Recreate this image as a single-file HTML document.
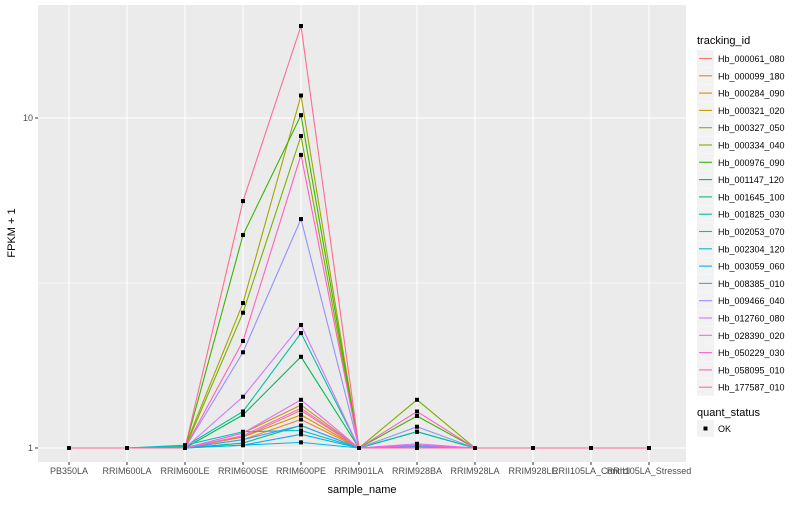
<!DOCTYPE html>
<html><head><meta charset="utf-8"><style>
body{margin:0;background:#fff;font-family:"Liberation Sans",Arial,sans-serif}
svg text{font-family:"Liberation Sans",Arial,sans-serif}
</style></head><body>
<svg id="c" width="800" height="500" xmlns="http://www.w3.org/2000/svg">
<rect x="0" y="0" width="800" height="500" fill="#fff"/>
</svg>
<script>
const categories=["PB350LA","RRIM600LA","RRIM600LE","RRIM600SE","RRIM600PE","RRIM901LA","RRIM928BA","RRIM928LA","RRIM928LE","RRII105LA_Control","RRII105LA_Stressed"];
const seriesIds=["Hb_000061_080","Hb_000099_180","Hb_000284_090","Hb_000321_020","Hb_000327_050","Hb_000334_040","Hb_000976_090","Hb_001147_120","Hb_001645_100","Hb_001825_030","Hb_002053_070","Hb_002304_120","Hb_003059_060","Hb_008385_010","Hb_009466_040","Hb_012760_080","Hb_028390_020","Hb_050229_030","Hb_058095_010","Hb_177587_010"];
const colors=["#F8766D","#EA8331","#D89000","#C09B00","#A3A500","#7CAE00","#39B600","#00BB4E","#00BF7D","#00C1A3","#00BFC4","#00BAE0","#00B0F6","#35A2FF","#9590FF","#C77CFF","#E76BF3","#FA62DB","#FF62BC","#FF6C91"];
const sePE=[[1.08,1.30],[1.06,1.22],[1.08,1.26],[1.11,1.35],[2.75,11.7],[2.57,8.82],[4.42,10.2],[1.26,1.89],[1.035,1.17],[1.29,2.23],[1.12,1.13],[1.02,1.04],[1.02,1.10],[1.06,1.17],[1.95,4.94],[1.43,2.36],[1.11,1.40],[1.09,1.32],[2.11,7.73],[5.6,19.0]];
const baValues=[1.02,1.0,1.0,1.01,1.0,1.40,1.25,1.12,1.0,1.12,1.0,1.0,1.0,1.01,1.16,1.02,1.03,1.02,1.29,1.0];
const leValues=[1.0,1.0,1.005,1.0,1.01,1.0,1.0,1.0,1.0,1.01,1.02,1.0,1.0,1.0,1.0,1.0,1.0,1.0,1.0,1.0];
const yTicks=[1,10];
const yTickLabels=["1","10"];

const svg=document.getElementById('c');
const NS="http://www.w3.org/2000/svg";
const P={l:38,r:686,t:5,b:462};
function xs(i){return 69+i*58;}
function ys(v){return 448-Math.log10(v)*330;}
function mk(t,a,p){const e=document.createElementNS(NS,t);for(const k in a)e.setAttribute(k,a[k]);(p||svg).appendChild(e);return e;}
const panel=mk('rect',{x:P.l,y:P.t,width:P.r-P.l,height:P.b-P.t,fill:'#EBEBEB'});


// minor grid
const mg=mk('line',{x1:P.l,x2:P.r,y1:ys(Math.sqrt(10)),y2:ys(Math.sqrt(10)),stroke:'#fff','stroke-width':0.6});


yTicks.forEach((v,i)=>{
 const g=mk('line',{x1:P.l,x2:P.r,y1:ys(v),y2:ys(v),stroke:'#fff','stroke-width':1.1});
 
 
 mk('line',{x1:P.l-3,x2:P.l,y1:ys(v),y2:ys(v),stroke:'#333'});
 const t=mk('text',{x:P.l-5,y:ys(v)+3,'text-anchor':'end','font-size':9,fill:'#4D4D4D'});
 t.textContent=yTickLabels[i];
 
 
});
categories.forEach((c,i)=>{
 const g=mk('line',{x1:xs(i),x2:xs(i),y1:P.t,y2:P.b,stroke:'#fff','stroke-width':1.1});
 
 
 mk('line',{x1:xs(i),x2:xs(i),y1:P.b,y2:P.b+3,stroke:'#333'});
 const t=mk('text',{x:xs(i),y:P.b+12,'text-anchor':'middle','font-size':9,fill:'#4D4D4D'});
 t.textContent=c;
 
 
});
function seriesVals(k){const v=categories.map(()=>1.0);v[2]=leValues[k];v[3]=sePE[k][0];v[4]=sePE[k][1];v[6]=baValues[k];return v;}
seriesIds.forEach((id,k)=>{
 const v=seriesVals(k);
 const pl=mk('polyline',{points:v.map((d,i)=>xs(i)+','+ys(d)).join(' '),fill:'none',stroke:colors[k],'stroke-width':1.1});
 
 
});
seriesIds.forEach((id,k)=>{
 seriesVals(k).forEach((d,i)=>{
  const p=mk('rect',{x:xs(i)-2,y:ys(d)-2,width:4,height:4,fill:'#000'});
  
  
 });
});
const xt=mk('text',{x:(P.l+P.r)/2,y:493,'text-anchor':'middle','font-size':11,fill:'#000'});
xt.textContent='sample_name';


const yt=mk('text',{x:0,y:0,transform:'translate(15,233) rotate(-90)','text-anchor':'middle','font-size':11,fill:'#000'});
yt.textContent='FPKM + 1';


// legend
const lt=mk('text',{x:697,y:44,'font-size':11,fill:'#000'});
lt.textContent='tracking_id';


seriesIds.forEach((id,k)=>{
 const y=50+k*17.3;
 const g=mk('g',{});
 
 
 mk('rect',{x:697,y:y,width:17,height:17,fill:'#F2F2F2'},g);
 mk('line',{x1:699,x2:712,y1:y+8.5,y2:y+8.5,stroke:colors[k],'stroke-width':1.1},g);
 const t=mk('text',{x:718,y:y+12,'font-size':9,fill:'#000'},g);
 t.textContent=id;
});
const qt=mk('text',{x:697,y:416,'font-size':11,fill:'#000'});
qt.textContent='quant_status';


const qg=mk('g',{});


mk('rect',{x:697,y:420,width:17,height:17,fill:'#F2F2F2'},qg);
mk('rect',{x:703.5,y:426.5,width:4,height:4,fill:'#000'},qg);
const ok=mk('text',{x:718,y:432,'font-size':9,fill:'#000'},qg);
ok.textContent='OK';
</script>
</body></html>
